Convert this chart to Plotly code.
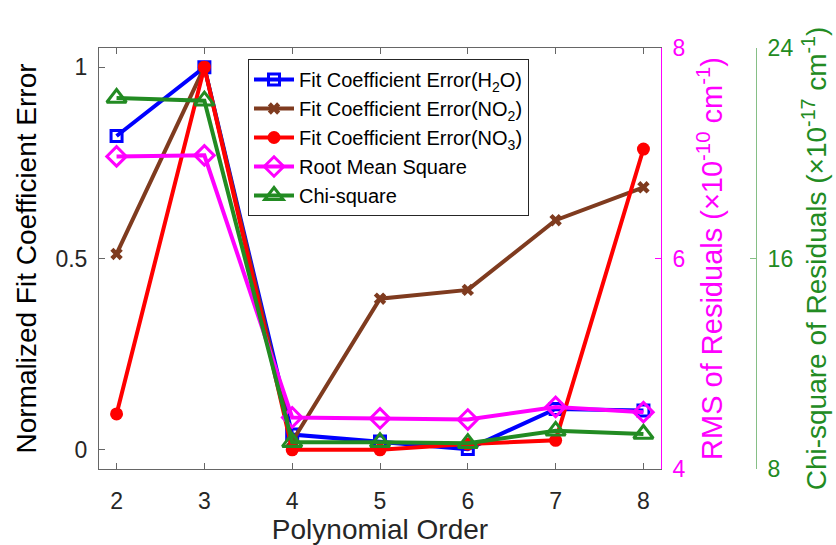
import plotly.graph_objects as go

orders = [2, 3, 4, 5, 6, 7, 8]
err_h2o = [0.82, 1.0, 0.04, 0.022, 0.002, 0.107, 0.103]
err_no2 = [0.512, 1.0, 0.022, 0.395, 0.418, 0.60, 0.686]
err_no3 = [0.094, 1.0, 0.0, 0.0, 0.015, 0.025, 0.786]
rms_vals = [6.97, 6.98, 4.49, 4.48, 4.47, 4.59, 4.54]
chi_vals = [22.1, 22.0, 9.02, 9.02, 8.98, 9.45, 9.33]

FONT = "Liberation Sans, Arial, sans-serif"
W, H = 836, 545
ML, MR, MT, MB = 99, 10, 48, 76
plot_w = W - ML - MR
x_end = (661 - ML) / plot_w
green_pos = (756 - ML) / plot_w

MAG = "#FF00FF"
GRN = "#228B22"
BRN = "#7F3B1F"

fig = go.Figure()
fig.add_trace(go.Scatter(
    x=orders, y=err_h2o, name="Fit Coefficient Error(H<sub>2</sub>O)",
    mode="lines+markers", line=dict(color="#0000FF", width=4),
    marker=dict(symbol="square-open", size=11, color="#0000FF", line=dict(width=3, color="#0000FF")),
    yaxis="y"))
fig.add_trace(go.Scatter(
    x=orders, y=err_no2, name="Fit Coefficient Error(NO<sub>2</sub>)",
    mode="lines+markers", line=dict(color=BRN, width=4),
    marker=dict(symbol="x", size=11, color=BRN, line=dict(width=0)),
    yaxis="y"))
fig.add_trace(go.Scatter(
    x=orders, y=err_no3, name="Fit Coefficient Error(NO<sub>3</sub>)",
    mode="lines+markers", line=dict(color="#FF0000", width=4),
    marker=dict(symbol="circle", size=13, color="#FF0000"),
    yaxis="y"))
fig.add_trace(go.Scatter(
    x=orders, y=rms_vals, name="Root Mean Square",
    mode="lines+markers", line=dict(color=MAG, width=4),
    marker=dict(symbol="diamond-open", size=15, color=MAG, line=dict(width=3, color=MAG)),
    yaxis="y2"))
fig.add_trace(go.Scatter(
    x=orders, y=chi_vals, name="Chi-square",
    mode="lines+markers", line=dict(color=GRN, width=4),
    marker=dict(symbol="triangle-up-open", size=17, color=GRN, line=dict(width=3, color=GRN)),
    yaxis="y3"))

fig.update_layout(
    template="none",
    width=W, height=H,
    margin=dict(l=ML, r=MR, t=MT, b=MB, pad=0),
    paper_bgcolor="white", plot_bgcolor="white",
    font=dict(family=FONT, size=22, color="#262626"),
    showlegend=True,
    legend=dict(
        x=(248 - ML) / plot_w, y=(469 - 59) / 421, xanchor="left", yanchor="top",
        bgcolor="white", bordercolor="#262626", borderwidth=1,
        font=dict(family=FONT, size=20, color="black"),
        tracegroupgap=0, itemwidth=40,
    ),
    xaxis=dict(
        domain=[0, x_end], range=[1.8, 8.2],
        tickvals=orders, ticktext=[str(v) for v in orders],
        ticks="inside", ticklen=6, tickcolor="#666", tickwidth=1,
        showline=True, linecolor="#666", linewidth=1, mirror="ticks",
        showgrid=False, zeroline=False,
        tickfont=dict(size=23, color="#262626"), ticklabelstandoff=11,
        title=dict(text="Polynomial Order", font=dict(size=28, color="#262626"), standoff=0),
    ),
    yaxis=dict(
        range=[-0.05, 1.05], tickvals=[0, 0.5, 1], ticktext=["0", "0.5", "1"],
        ticks="inside", ticklen=6, tickcolor="#666", tickwidth=1,
        showline=True, linecolor="#666", linewidth=1,
        showgrid=False, zeroline=False,
        tickfont=dict(size=23, color="#262626"), ticklabelstandoff=6,
        title=dict(text="Normalized Fit Coefficient Error", font=dict(size=28, color="black"), standoff=10),
    ),
    yaxis2=dict(
        overlaying="y", side="right", anchor="x",
        range=[4, 8], tickvals=[4, 6, 8], ticktext=["4", "6", "8"],
        ticks="inside", ticklen=6, tickcolor=MAG, tickwidth=1,
        showline=True, linecolor=MAG, linewidth=1,
        showgrid=False, zeroline=False,
        tickfont=dict(size=23, color=MAG), ticklabelstandoff=6,
        title=dict(text="RMS of Residuals (×10<sup>-10</sup> cm<sup>-1</sup>)",
                   font=dict(size=29, color=MAG), standoff=17),
    ),
    yaxis3=dict(
        overlaying="y", side="right", anchor="free", position=green_pos,
        range=[8, 24], tickvals=[8, 16, 24], ticktext=["8", "16", "24"],
        ticks="inside", ticklen=6, tickcolor="rgba(34,139,34,0.55)", tickwidth=1,
        showline=True, linecolor="rgba(34,139,34,0.55)", linewidth=1,
        showgrid=False, zeroline=False,
        tickfont=dict(size=23, color=GRN), ticklabelstandoff=6,
        title=dict(text="Chi-square of Residuals (×10<sup>-17</sup> cm<sup>-1</sup>)",
                   font=dict(size=28, color=GRN), standoff=14),
    ),
)

fig.write_html("out.html", config={"displayModeBar": False},
               post_script="document.body.style.margin='0px';")
